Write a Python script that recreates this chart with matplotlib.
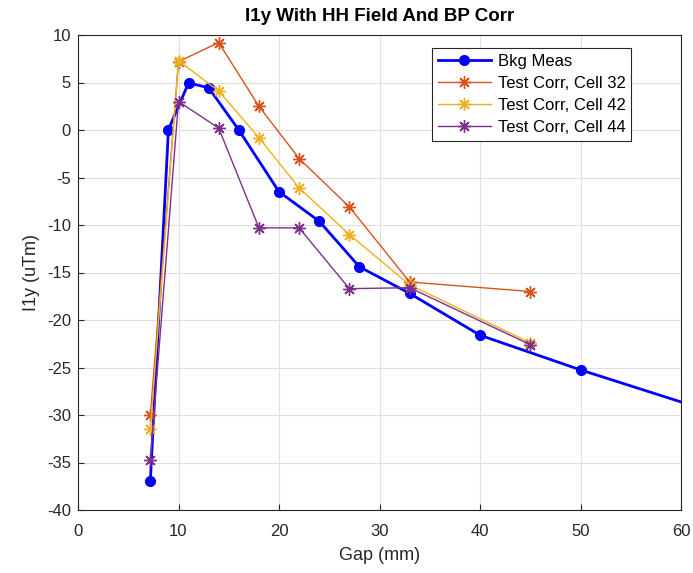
import matplotlib
matplotlib.use("Agg")
import matplotlib.pyplot as plt

plt.rcParams['font.family'] = ['Liberation Sans', 'DejaVu Sans']
plt.rcParams['axes.unicode_minus'] = False

# Data
bkg_x = [7.2, 9, 11, 13, 16, 20, 24, 28, 33, 40, 50, 70]
bkg_y = [-36.9, 0.05, 4.95, 4.45, 0.0, -6.5, -9.6, -14.4, -17.2, -21.6, -25.25, -32.0]

test_x = [7.2, 10, 14, 18, 22, 27, 33, 45]
cell32_y = [-30.0, 7.2, 9.2, 2.5, -3.0, -8.1, -16.0, -17.0]
cell42_y = [-31.5, 7.3, 4.1, -0.8, -6.1, -11.0, -16.3, -22.4]
cell44_y = [-34.7, 3.0, 0.2, -10.3, -10.3, -16.7, -16.6, -22.6]

labels = ["Bkg Meas", "Test Corr, Cell 32", "Test Corr, Cell 42", "Test Corr, Cell 44"]
colors = ["#0000FF", "#D95319", "#EDB120", "#7E2F8E"]

fig = plt.figure(figsize=(6.93, 5.73), dpi=100)
ax = fig.add_axes([78/693, 1-510/573, (681-78)/693, (510-35)/573])

ax.plot(bkg_x, bkg_y, '-o', color=colors[0], lw=2, ms=7, mfc=colors[0], mec=colors[0],
        label=labels[0])
for ys, c, lab in zip([cell32_y, cell42_y, cell44_y], colors[1:], labels[1:]):
    ax.plot(test_x, ys, '-', marker=(8, 2, 0), color=c, lw=1, ms=9, mew=1.0, label=lab)

ax.set_xlim(0, 60)
ax.set_ylim(-40, 10)
ax.set_xticks(range(0, 61, 10))
ax.set_yticks(range(-40, 11, 5))
ax.grid(True, color='#DFDFDF', lw=0.8)
ax.set_axisbelow(True)
ax.tick_params(direction='in', length=4, labelsize=12, colors='#262626', width=0.8,
               top=False, right=False)
ax.tick_params(axis='x', pad=10)
ax.tick_params(axis='y', pad=5)
for s in ax.spines.values():
    s.set_color('#262626')
    s.set_linewidth(0.8)

ax.set_xlabel("Gap (mm)", fontsize=13, color='#262626', labelpad=6)
ax.set_ylabel("I1y (uTm)", fontsize=13, color='#262626', labelpad=5)
ax.set_title("I1y With HH Field And BP Corr", fontsize=13.5, fontweight='bold', pad=10)

leg = ax.legend(loc='upper right', bbox_to_anchor=(0.923, 0.98), fontsize=12,
                frameon=True, fancybox=False, edgecolor='#262626', framealpha=1,
                handlelength=3.2, borderpad=0.35, labelspacing=0.42, handletextpad=0.4,
                borderaxespad=0.2)
leg.get_frame().set_linewidth(0.8)

fig.savefig("out.png", dpi=100)
